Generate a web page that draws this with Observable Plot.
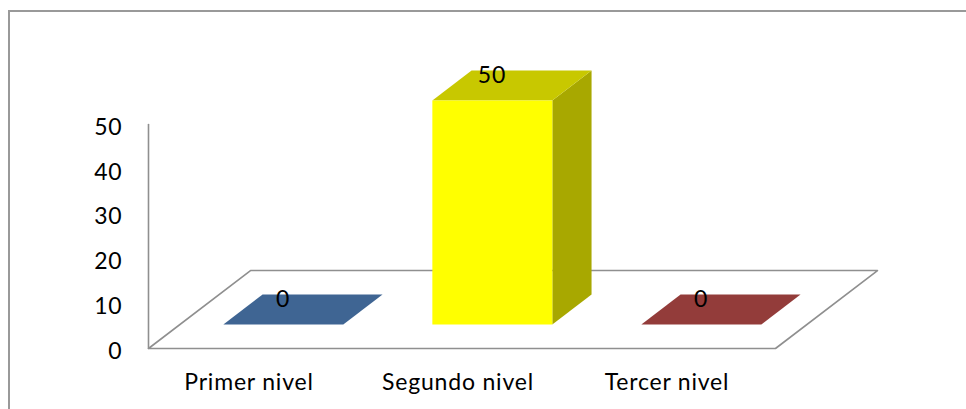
<!DOCTYPE html>
<html>
<head>
<meta charset="utf-8">
<script src="https://cdn.jsdelivr.net/npm/d3@7"></script>
<script src="https://cdn.jsdelivr.net/npm/@observablehq/plot@0.6"></script>
<style>
  html, body { margin: 0; padding: 0; background: #fff; overflow: hidden; }
  #chart { position: relative; width: 966px; height: 409px; overflow: hidden; }
  #chart::before {
    content: ""; position: absolute; left: 8px; top: 10px; width: 1000px; height: 440px;
    border: 2px solid #999; box-sizing: border-box;
  }
  #chart svg { position: absolute; left: 0; top: 0; }
  #chart svg text { letter-spacing: 0.8px; }
</style>
</head>
<body>
<div id="chart"></div>
<script>
const categories = ["Primer nivel", "Segundo nivel", "Tercer nivel"];
const values = [0, 50, 0];
const yTicks = [0, 10, 20, 30, 40, 50];
const frontColors = ["#4f81bd", "#ffff00", "#c0504d"];
const topColors = ["#3f6593", "#c8c800", "#933c3a"];
const sideColors = ["#2f4b6e", "#a8a800", "#6e2c2a"];

// Oblique depth axis, expressed in data units per unit of depth.
const depthX = 0.488;
const depthY = 17.4;
const barCenter = 0.495;
const barHalfWidth = 0.287;
const depthNear = 0.3077;
const depthFar = 0.6923;

const project = (x, y, d) => ({x: x + d * depthX, y: y + d * depthY});

function face(corners, color, id) {
  return corners.map(([x, y, d]) => ({...project(x, y, d), color, id}));
}

const bars = values.flatMap((v, i) => {
  const l = i + barCenter - barHalfWidth, r = i + barCenter + barHalfWidth;
  return [
    face([[r, 0, depthNear], [r, 0, depthFar], [r, v, depthFar], [r, v, depthNear]], sideColors[i], `side${i}`),
    face([[l, v, depthNear], [r, v, depthNear], [r, v, depthFar], [l, v, depthFar]], topColors[i], `top${i}`),
    face([[l, 0, depthNear], [r, 0, depthNear], [r, v, depthNear], [l, v, depthNear]], frontColors[i], `front${i}`)
  ].flat();
});

const floor = face([[0, 0, 0], [0, 0, 1], [3, 0, 1], [3, 0, 0]], "none", "floor");
const axisLine = [{x: 0, y: 0}, {x: 0, y: 50}];
const labels = values.map((v, i) => ({x: i + 0.5, y: v, text: String(v)}));

const font = "Lato, Carlito, sans-serif";
const textSize = 23;

const chart = Plot.plot({
  width: 966,
  height: 409,
  marginLeft: 148,
  marginRight: 191,
  marginTop: 124,
  marginBottom: 61,
  style: {fontFamily: font, fontSize: `${textSize}px`, color: "#000", background: "transparent", overflow: "visible"},
  x: {domain: [0, 3]},
  y: {domain: [0, 50]},
  color: {type: "identity"},
  marks: [
    Plot.line(floor, {x: "x", y: "y", curve: "linear-closed", stroke: "#8f8f8f", strokeWidth: 1.6, fill: "none"}),
    Plot.line(axisLine, {x: "x", y: "y", stroke: "#8f8f8f", strokeWidth: 1.6}),
    Plot.line(bars, {x: "x", y: "y", z: "id", fill: "color", stroke: "none", curve: "linear-closed"}),
    Plot.axisY({ticks: yTicks, tickSize: 0, tickPadding: 26, label: null, dy: 3, fill: "#000"}),
    Plot.axisX({
      ticks: categories.map((_, i) => i + 0.5),
      tickFormat: (d) => categories[Math.floor(d)],
      tickSize: 0, tickPadding: 25, label: null, dx: -4, fill: "#000"
    }),
    Plot.text(labels, {x: "x", y: "y", text: "text", dx: 30, dy: -49, fill: "#000", fontSize: textSize})
  ]
});

document.getElementById("chart").appendChild(chart);
</script>
</body>
</html>
